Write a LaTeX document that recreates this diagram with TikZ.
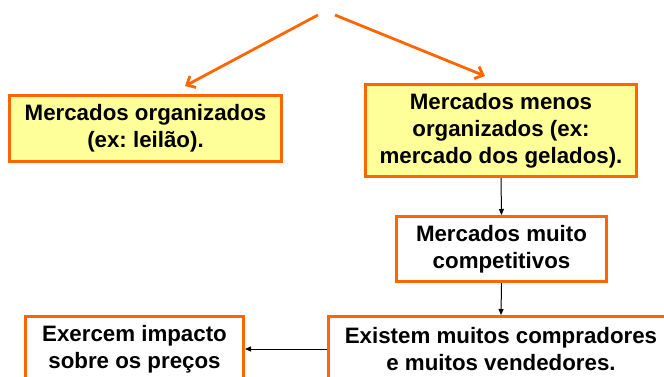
\documentclass[tikz,border=0pt]{standalone}
\usepackage{fontspec}
\setmainfont{Liberation Sans}
\usetikzlibrary{arrows.meta}
\definecolor{laranja}{HTML}{FF6600}
\definecolor{amarelo}{HTML}{FFFF99}
\frenchspacing

\begin{document}
\begin{tikzpicture}[x=1pt, y=-1pt,
  caixa/.style = {draw=laranja, line width=3pt, align=center, inner sep=0pt, font=\bfseries\fontsize{22.3}{27}\selectfont},
  amarela/.style = {caixa, fill=amarelo},
  branca/.style = {caixa, fill=white},
  seta/.style = {-{Triangle[length=6pt,width=5pt]}, line width=1pt},
  setalaranja/.style = {draw=laranja, line width=2.8pt, -{Straight Barb[length=7pt,width=13pt]}}]
  \useasboundingbox (0,0) rectangle (664,376);
  \node[amarela, minimum width=272, minimum height=66] (org) at (145.5,128.5) {Mercados organizados\\(ex: leilão).};
  \node[amarela, minimum width=271, minimum height=92] (menos) at (501,130.5) {Mercados menos\\organizados (ex:\\mercado dos gelados).};
  \node[branca, minimum width=210, minimum height=65] (compet) at (501.5,249) {Mercados muito\\competitivos};
  \node[branca, minimum width=218, minimum height=65] (impacto) at (134.5,349) {Exercem impacto\\sobre os preços};
  \node[branca, minimum width=345, minimum height=65] (existem) at (501,349) {Existem muitos compradores\\e muitos vendedores.};
  \coordinate (topoE) at (318,15);
  \coordinate (topoD) at (335,15);
  \coordinate (pontaE) at (185,86);
  \coordinate (pontaD) at (485,76);
  \draw[setalaranja] (topoE) -- (pontaE);
  \draw[setalaranja] (topoD) -- (pontaD);
  \draw[seta] (menos.south) -- (compet.north);
  \draw[seta] (compet.south) -- (existem.north);
  \draw[seta] (existem.west) -- (impacto.east);
\end{tikzpicture}
\end{document}
